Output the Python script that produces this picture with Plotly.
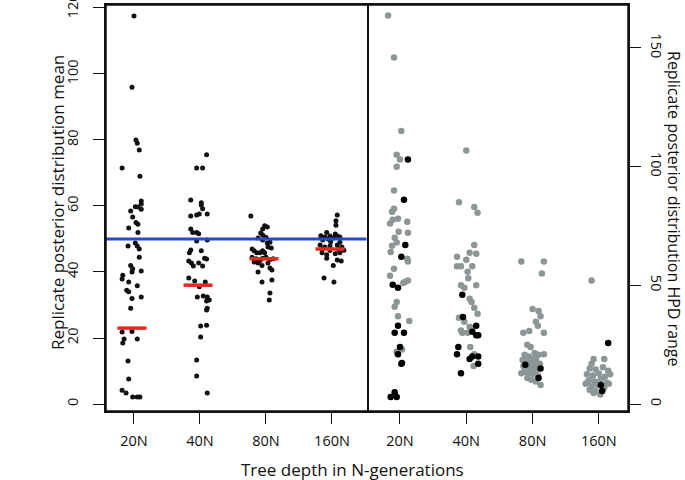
import plotly.graph_objects as go
import numpy as np

categories = ["20N", "40N", "80N", "160N"]

# ---- left panel: replicate posterior distribution mean ----
mean_20 = [117.6, 96, 80, 79, 77, 71.5, 69, 61.5, 60.6, 59.8, 59.7, 59, 58.5, 56.7, 55, 54.5, 53.3, 52,
           48.8, 47.9, 47.9, 47, 44.5, 42, 41, 40.3, 40, 39, 37.9, 37, 35.8, 34.5, 34, 32.4, 32, 29, 22,
           21.8, 19.7, 19.7, 18.5, 13, 7.6, 4.2, 3.3, 2.1, 2.1, 2.1]
mean_20_jit = [0.00, -0.03, 0.03, 0.05, 0.08, -0.18, 0.09, 0.11, 0.11, 0.02, 0.06, 0.11, -0.05, -0.02, 0.03,
               0.06, -0.08, 0.06, 0.02, 0.05, -0.09, 0.08, 0.08, -0.05, -0.02, 0.11, -0.03, -0.17, -0.18,
               -0.08, 0.05, -0.11, -0.08, 0.11, -0.03, -0.05, -0.03, -0.18, 0.05, -0.15, -0.17, -0.09,
               -0.08, -0.18, -0.12, -0.02, 0.05, 0.09]
mean_40 = [75.5, 71.5, 71.5, 61.8, 61, 60.3, 59.2, 57, 57.3, 57.6, 57.6, 53, 52, 52, 51.6, 49.4, 49.7, 46.7,
           46.4, 45.8, 44.2, 43.9, 43.3, 42.7, 41.8, 42.7, 41.8, 38.2, 37.3, 37, 35.5, 32.4, 32.7, 32.4,
           31.2, 31.5, 29, 28.5, 23.6, 23.9, 20.3, 13.3, 8.5, 3.3]
mean_40_jit = [0.10, -0.05, 0.04, -0.14, 0.02, 0.02, 0.04, -0.14, -0.05, -0.01, 0.11, -0.14, -0.11, -0.05,
               -0.02, -0.05, 0.11, -0.14, 0.02, -0.16, 0.07, 0.10, -0.17, -0.13, -0.10, -0.02, 0.04, -0.17,
               -0.08, 0.08, -0.01, -0.04, 0.05, 0.11, 0.10, 0.14, 0.11, 0.10, 0.01, 0.10, 0.01, -0.05,
               -0.05, 0.11]
mean_80 = [57, 54, 53.6, 53, 51.8, 51.2, 50.3, 50.5, 49.7, 49, 48.8, 47, 46.4, 45.8, 45.8, 46.4, 45.8, 47.6,
           47.3, 44.5, 44, 44.2, 43.8, 43.5, 44.5, 44, 43, 42.7, 42, 42.7, 41.2, 40.6, 40, 37, 37.6, 33.6, 31.5]
mean_80_jit = [-0.23, -0.02, 0.02, -0.05, -0.08, -0.05, -0.12, 0.00, -0.05, 0.06, 0.02, -0.21, -0.18, -0.14,
               -0.09, -0.05, -0.02, 0.03, 0.08, -0.21, -0.15, -0.05, 0.06, -0.09, 0.00, 0.11, -0.18, -0.12,
               -0.06, 0.03, 0.06, 0.09, -0.12, -0.06, 0.09, 0.06, 0.05]
mean_160 = [57.3, 55.5, 54.2, 52, 51.5, 51, 50.6, 50.9, 50.9, 50.6, 49.7, 50, 50.3, 49, 49.2, 48.2, 47.6,
            47.9, 48.2, 47.6, 46.8, 46.5, 46.9, 46.6, 45.8, 45.2, 45.5, 45.8, 44.2, 43.6, 43.3, 42, 38.2, 37]
mean_160_jit = [0.08, 0.06, 0.06, -0.08, 0.05, -0.17, -0.11, -0.03, 0.08, 0.12, -0.14, -0.06, 0.02, 0.12,
                -0.02, -0.18, -0.11, -0.03, 0.08, 0.15, -0.15, -0.03, 0.09, 0.18, -0.15, -0.08, 0.05, 0.12,
                -0.08, 0.08, 0.14, 0.02, -0.12, 0.03]
medians = [23, 36, 44, 47]
true_value = 50

# ---- right panel: replicate posterior distribution HPD range ----
hpd_20_grey = [163.7, 146, 115, 105, 103, 100, 90, 82.3, 81, 77.6, 78, 76, 76.8, 72.6, 72.2, 70, 68, 66.7,
               64, 61.2, 60, 57, 54, 51.5, 52, 51, 43, 41, 37, 35, 22, 23]
hpd_20_grey_jit = [-0.18, -0.09, 0.02, -0.05, 0.00, -0.05, -0.09, -0.09, -0.12, -0.11, -0.03, -0.15, 0.11,
                   -0.02, 0.12, -0.08, -0.05, -0.12, -0.14, 0.11, 0.12, -0.09, -0.15, 0.08, 0.12, 0.05,
                   -0.05, -0.08, -0.03, 0.14, -0.05, 0.03]
hpd_20_black = [103, 86, 67, 62, 50.2, 49, 33, 30, 30, 24, 21, 17.3, 17, 5, 3, 3]
hpd_20_black_jit = [0.12, 0.06, 0.08, 0.02, -0.11, -0.03, -0.03, -0.08, 0.06, 0.00, -0.03, 0.03, 0.02,
                    -0.08, -0.14, -0.05]
hpd_40_grey = [106.8, 85, 83, 80.6, 67, 63.7, 63.3, 62, 60.8, 58, 58, 58, 55.7, 53, 50, 50, 49, 44.3, 43,
               40.5, 38, 36.3, 34.6, 32.5, 32, 31, 30, 30, 24, 16, 21]
hpd_40_grey_jit = [0.00, -0.11, 0.12, 0.17, 0.12, 0.05, 0.15, -0.14, 0.00, -0.14, 0.09, -0.08, 0.02, 0.03,
                   -0.08, 0.15, -0.03, 0.05, 0.08, 0.12, 0.17, -0.11, -0.03, 0.05, 0.09, -0.08, -0.06, 0.02,
                   0.06, 0.11, 0.12]
hpd_40_black = [46, 36.7, 33, 30.4, 29, 29, 24, 21, 19, 20, 20, 17, 13]
hpd_40_black_jit = [-0.06, -0.05, 0.15, 0.09, 0.15, 0.18, -0.12, -0.14, 0.05, 0.18, 0.09, 0.18, -0.08]
hpd_80_grey = [60, 60, 55, 40, 39.2, 37, 34.6, 33, 30, 30.8, 30, 25, 24, 20.7, 20, 21.5, 20.7, 21, 8, 18.5,
               18, 17.5, 18.8, 17, 16, 15.5, 16.2, 14.5, 13.5, 13, 12.5, 11, 10.2, 9.5, 15, 12, 19.5, 19,
               16.8, 13, 14]
hpd_80_grey_jit = [-0.17, 0.17, 0.14, 0.00, 0.09, 0.12, 0.05, 0.08, -0.14, -0.05, 0.17, -0.08, -0.03, -0.12,
                   -0.06, 0.03, 0.09, 0.17, 0.12, -0.15, -0.09, -0.03, 0.05, 0.11, -0.14, -0.06, 0.00, 0.06,
                   -0.11, -0.05, 0.02, -0.08, -0.02, 0.05, -0.12, 0.08, -0.09, 0.00, 0.06, -0.17, -0.03]
hpd_80_black = [16.5, 15, 11]
hpd_80_black_jit = [-0.11, 0.12, 0.09]
hpd_160_grey = [52, 19, 19, 17, 15, 14.5, 15.5, 14, 12.5, 12, 12.8, 11.5, 12.5, 10, 9.5, 10.5, 9, 8.5, 7.5,
                8, 7, 8.5, 6, 5.5, 6.2, 4.6, 4, 9.2]
hpd_160_grey_jit = [-0.11, -0.08, 0.08, -0.11, -0.14, -0.05, 0.06, 0.14, -0.18, -0.09, 0.00, 0.09, 0.17,
                    -0.15, -0.06, 0.03, 0.12, -0.20, -0.11, -0.02, 0.08, 0.15, -0.14, -0.05, 0.06, -0.08,
                    0.02, -0.17]
hpd_160_black = [25.7, 8, 5.5]
hpd_160_black_jit = [0.14, 0.03, 0.05]

FONT = "Open Sans, Noto Sans, sans-serif"
INK = "#111111"

left_vals = [mean_20, mean_40, mean_80, mean_160]
left_jit = [mean_20_jit, mean_40_jit, mean_80_jit, mean_160_jit]
grey_vals = [hpd_20_grey, hpd_40_grey, hpd_80_grey, hpd_160_grey]
grey_jit = [hpd_20_grey_jit, hpd_40_grey_jit, hpd_80_grey_jit, hpd_160_grey_jit]
black_vals = [hpd_20_black, hpd_40_black, hpd_80_black, hpd_160_black]
black_jit = [hpd_20_black_jit, hpd_40_black_jit, hpd_80_black_jit, hpd_160_black_jit]


def positions(vals_list, jit_list):
    xs, ys = [], []
    for i, (v, j) in enumerate(zip(vals_list, jit_list)):
        xs += list(i + np.array(j))
        ys += list(v)
    return xs, ys


fig = go.Figure()

lx, ly = positions(left_vals, left_jit)
fig.add_trace(go.Scatter(x=lx, y=ly, mode="markers", xaxis="x", yaxis="y",
                         marker=dict(color="#111111", size=5), showlegend=False))

fig.add_trace(go.Scatter(x=[-0.5, 3.6], y=[true_value, true_value], mode="lines", xaxis="x", yaxis="y",
                         line=dict(color="#2548d8", width=3), showlegend=False))

for i, m in enumerate(medians):
    fig.add_trace(go.Scatter(x=[i - 0.25, i + 0.19], y=[m, m], mode="lines", xaxis="x", yaxis="y",
                             line=dict(color="#e8281e", width=3.5), showlegend=False))

gx, gy = positions(grey_vals, grey_jit)
fig.add_trace(go.Scatter(x=gx, y=gy, mode="markers", xaxis="x2", yaxis="y2",
                         marker=dict(color="#8c9696", size=6.5), showlegend=False))
bx, by = positions(black_vals, black_jit)
fig.add_trace(go.Scatter(x=bx, y=by, mode="markers", xaxis="x2", yaxis="y2",
                         marker=dict(color="#000000", size=6.5), showlegend=False))

W, H = 685, 480
L, R, T, B = 106, 57, 5, 69
PW, PH = W - L - R, H - T - B
split = (366.5 - L) / PW


def axis_style(mirror=True):
    return dict(showgrid=False, zeroline=False, showline=True, linecolor=INK, linewidth=1.5,
                mirror=mirror, ticks="outside", ticklen=11, tickwidth=1.3, tickcolor=INK,
                automargin=False, ticklabeloverflow="allow",
                tickfont=dict(family=FONT, size=14.5, color=INK))


fig.update_layout(
    width=W, height=H,
    margin=dict(l=L, r=R, t=T, b=B, autoexpand=False),
    paper_bgcolor="white", plot_bgcolor="white",
    xaxis=dict(domain=[0, split], range=[-0.424, 3.523], tickmode="array",
               tickvals=[0, 1, 2, 3], ticktext=categories, ticklabelstandoff=5, **axis_style()),
    xaxis2=dict(domain=[split, 1], range=[-0.505, 3.439], tickmode="array",
                tickvals=[0, 1, 2, 3], ticktext=categories, anchor="y2", ticklabelstandoff=5,
                **axis_style()),
    yaxis=dict(range=[-2.12, 120.9], tickvals=[0, 20, 40, 60, 80, 100, 120], tickangle=-90,
               anchor="x", ticklabelstandoff=9, **axis_style(True)),
    yaxis2=dict(range=[-2.95, 168.1], tickvals=[0, 50, 100, 150], tickangle=90, side="right",
                anchor="x2", ticklabelstandoff=4, **axis_style(False)),
    shapes=[dict(type="rect", xref="paper", yref="paper", x0=0, x1=1, y0=0, y1=1,
                 line=dict(color=INK, width=1.5), fillcolor="rgba(0,0,0,0)", layer="above")],
    annotations=[
        dict(text="Tree depth in N-generations", xref="paper", yref="paper", x=(352 - L) / PW,
             y=(T + PH - 469) / PH, showarrow=False, xanchor="center", yanchor="middle",
             font=dict(family=FONT, size=17, color=INK)),
        dict(text="Replicate posterior distribution mean", xref="paper", yref="paper",
             x=(58 - L) / PW, y=(T + PH - 203) / PH, showarrow=False, textangle=-90,
             xanchor="center", yanchor="middle", font=dict(family=FONT, size=17, color=INK)),
        dict(text="Replicate posterior distribution HPD range", xref="paper", yref="paper",
             x=(674 - L) / PW, y=(T + PH - 209) / PH, showarrow=False, textangle=90,
             xanchor="center", yanchor="middle", font=dict(family=FONT, size=16, color=INK)),
    ],
)

fig.write_html("out.html", config={"displayModeBar": False},
               post_script="document.body.style.margin='0';")
